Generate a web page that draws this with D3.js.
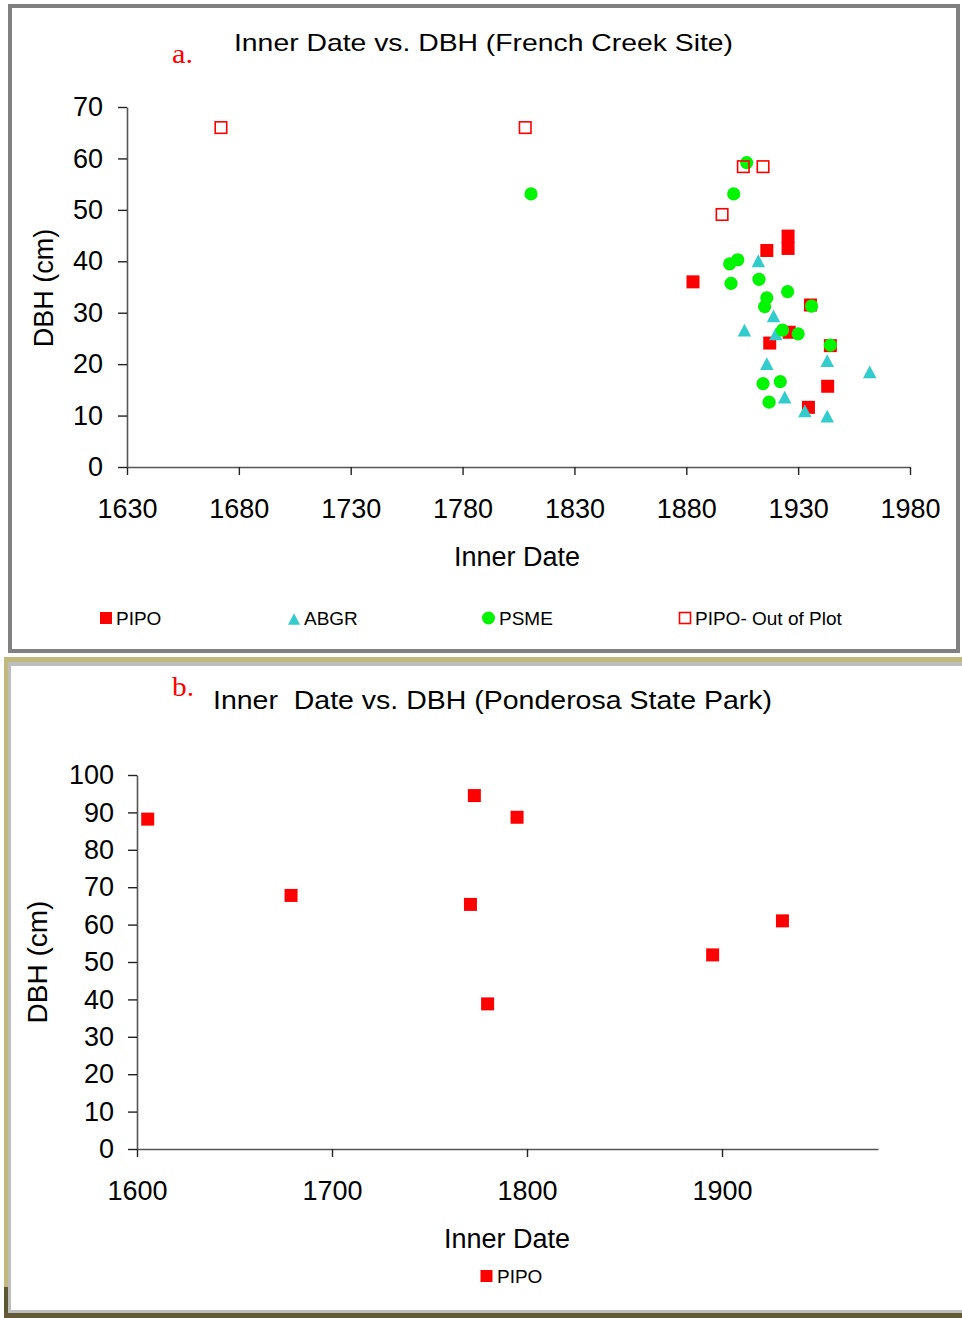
<!DOCTYPE html>
<html><head><meta charset="utf-8">
<script src="https://cdn.jsdelivr.net/npm/d3@7"></script>
<style>
html,body{margin:0;padding:0;background:#fff;}
svg{display:block;font-family:"Liberation Sans",Arial,sans-serif;}
</style></head><body>
<svg id="c" width="962" height="1318"></svg>
<script>
// ---------- Data: French Creek Site (a) ----------
const pipoDate   = [1883, 1916, 1925.5, 1925.5, 1935.5, 1926, 1917.3, 1944.4, 1943.2, 1934.6];
const pipoDbh    = [36.0, 42.1, 44.9, 42.5, 31.5, 26.2, 24.1, 23.6, 15.7, 11.6];
const abgrDate   = [1912.2, 1919, 1906, 1920, 1916, 1943, 1962, 1924, 1933, 1943];
const abgrDbh    = [40.1, 29.4, 26.6, 25.9, 20.1, 20.7, 18.5, 13.6, 10.9, 9.9];
const psmeDate   = [1810.6, 1907, 1901.2, 1899.4, 1903, 1912.5, 1900, 1925.3, 1916, 1915, 1936, 1923, 1930, 1944.4, 1914.3, 1922, 1917];
const psmeDbh    = [53.1, 59.2, 53.1, 39.5, 40.3, 36.5, 35.7, 34.1, 32.9, 31.2, 31.3, 26.6, 25.9, 23.7, 16.2, 16.6, 12.6];
const outDate    = [1672, 1808, 1905.5, 1914.3, 1896];
const outDbh     = [66, 66, 58.4, 58.4, 49.1];
const aXTicks    = [1630, 1680, 1730, 1780, 1830, 1880, 1930, 1980];
const aYTicks    = [0, 10, 20, 30, 40, 50, 60, 70];
const aLegend    = ["PIPO", "ABGR", "PSME", "PIPO- Out of Plot"];

// ---------- Data: Ponderosa State Park (b) ----------
const bPipoDate  = [1605.5, 1679, 1773, 1794.9, 1771, 1779.8, 1931, 1895.2];
const bPipoDbh   = [88.2, 67.8, 94.5, 88.7, 65.4, 38.8, 61.0, 51.9];
const bXTicks    = [1600, 1700, 1800, 1900];
const bYTicks    = [0, 10, 20, 30, 40, 50, 60, 70, 80, 90, 100];
const bLegend    = ["PIPO"];

const RED = "#ff0000", CYAN = "#33cccc", GREEN = "#00f500";
const svg = d3.select("#c");

// ---------- Frames ----------
svg.append("rect").attr("x",10).attr("y",6).attr("width",948).attr("height",645)
  .attr("fill","#fff").attr("stroke","#808080").attr("stroke-width",4);
svg.append("rect").attr("x",4).attr("y",657).attr("width",958).attr("height",661).attr("fill","#bfb97c");
svg.append("rect").attr("x",4).attr("y",1287).attr("width",6).attr("height",31).attr("fill","#5c5733");
svg.append("rect").attr("x",4).attr("y",1312).attr("width",958).attr("height",6).attr("fill","#625a36");
svg.append("rect").attr("x",8).attr("y",662).attr("width",960).attr("height",651).attr("fill","#bdbdbd");
svg.append("rect").attr("x",11).attr("y",666).attr("width",951).attr("height",644).attr("fill","#fff");

function styleAxis(g){
  g.select(".domain").attr("stroke","#555").attr("stroke-width",1.6);
  g.selectAll(".tick line").attr("stroke","#222").attr("stroke-width",1.4);
  g.selectAll(".tick text").attr("fill","#000").style("font-size","27px")
   .style("font-family","'Liberation Sans',Arial,sans-serif");
}
function square(g, cx, cy, s, fill, stroke){
  g.append("rect").attr("x",cx-s/2).attr("y",cy-s/2).attr("width",s).attr("height",s)
    .attr("fill",fill).attr("stroke",stroke||"none").attr("stroke-width",stroke?1.6:0);
}
function triPath(s){ const h=s*0.95; return `M0,${-h/2}L${s/2},${h/2}L${-s/2},${h/2}Z`; }

// ================= Chart a =================
const xa = d3.scaleLinear().domain([1630,1980]).range([127,910]);
const ya = d3.scaleLinear().domain([0,70]).range([467,107]);

const gxa = svg.append("g").attr("transform",`translate(0,${ya(0)})`)
  .call(d3.axisBottom(xa).tickValues(aXTicks).tickSize(8).tickPadding(24).tickSizeOuter(0).tickFormat(d3.format("d")));
styleAxis(gxa);
const gya = svg.append("g").attr("transform",`translate(${xa(1630)},0)`)
  .call(d3.axisLeft(ya).tickValues(aYTicks).tickSize(9).tickPadding(15).tickSizeOuter(0));
styleAxis(gya);

const ma = svg.append("g");
pipoDate.forEach((d,i)=> square(ma, xa(d), ya(pipoDbh[i]), 13, RED));
abgrDate.forEach((d,i)=> ma.append("path").attr("d",triPath(13.5))
  .attr("transform",`translate(${xa(d)},${ya(abgrDbh[i])})`).attr("fill",CYAN));
psmeDate.forEach((d,i)=> ma.append("circle").attr("cx",xa(d)).attr("cy",ya(psmeDbh[i])).attr("r",6.6).attr("fill",GREEN));
outDate.forEach((d,i)=> square(ma, xa(d), ya(outDbh[i]), 11.5, "none", RED));

// titles
svg.append("text").attr("x",234).attr("y",51).attr("textLength",499).attr("lengthAdjust","spacingAndGlyphs")
  .style("font-size","24px").text("Inner Date vs. DBH (French Creek Site)");
svg.append("text").attr("x",172).attr("y",63).attr("textLength",21).attr("lengthAdjust","spacingAndGlyphs")
  .style("font-family","'Liberation Serif',serif").style("font-size","27px").attr("fill",RED).text("a.");
svg.append("text").attr("x",517).attr("y",566).attr("text-anchor","middle").style("font-size","27px").text("Inner Date");
svg.append("text").attr("transform","translate(53,288) rotate(-90)").attr("text-anchor","middle")
  .style("font-size","27px").text("DBH (cm)");

// legend a
const legA = svg.append("g");
const legX = [100, 288, 482, 679];
square(legA, legX[0]+6, 618, 12, RED);
legA.append("path").attr("d",triPath(12)).attr("transform",`translate(${legX[1]+6},619)`).attr("fill",CYAN);
legA.append("circle").attr("cx",legX[2]+6.5).attr("cy",618).attr("r",6.5).attr("fill",GREEN);
square(legA, legX[3]+6, 618, 11, "none", RED);
aLegend.forEach((t,i)=> legA.append("text").attr("x",legX[i]+(i==2?17:16)).attr("y",625).style("font-size","19px").text(t));

// ================= Chart b =================
const xb = d3.scaleLinear().domain([1600,1980]).range([137,878]);
const yb = d3.scaleLinear().domain([0,100]).range([1149,775]);

const gxb = svg.append("g").attr("transform",`translate(0,${yb(0)})`)
  .call(d3.axisBottom(xb).tickValues(bXTicks).tickSize(8).tickPadding(24).tickSizeOuter(0).tickFormat(d3.format("d")));
styleAxis(gxb);
const gyb = svg.append("g").attr("transform",`translate(${xb(1600)},0)`)
  .call(d3.axisLeft(yb).tickValues(bYTicks).tickSize(9).tickPadding(14).tickSizeOuter(0));
styleAxis(gyb);

const mb = svg.append("g");
bPipoDate.forEach((d,i)=> square(mb, xb(d), yb(bPipoDbh[i]), 13, RED));

svg.append("text").attr("x",213).attr("y",709).attr("textLength",559).attr("lengthAdjust","spacingAndGlyphs")
  .style("font-size","25px").style("white-space","pre").attr("xml:space","preserve")
  .text("Inner  Date vs. DBH (Ponderosa State Park)");
svg.append("text").attr("x",172).attr("y",696).attr("textLength",22).attr("lengthAdjust","spacingAndGlyphs")
  .style("font-family","'Liberation Serif',serif").style("font-size","27px").attr("fill",RED).text("b.");
svg.append("text").attr("x",507).attr("y",1248).attr("text-anchor","middle").style("font-size","27px").text("Inner Date");
svg.append("text").attr("transform","translate(47,962) rotate(-90)").attr("text-anchor","middle")
  .style("font-size","28px").text("DBH (cm)");

const legB = svg.append("g");
square(legB, 486.5, 1276, 12, RED);
bLegend.forEach(t=> legB.append("text").attr("x",497).attr("y",1283).style("font-size","19px").text(t));
</script>
</body></html>
